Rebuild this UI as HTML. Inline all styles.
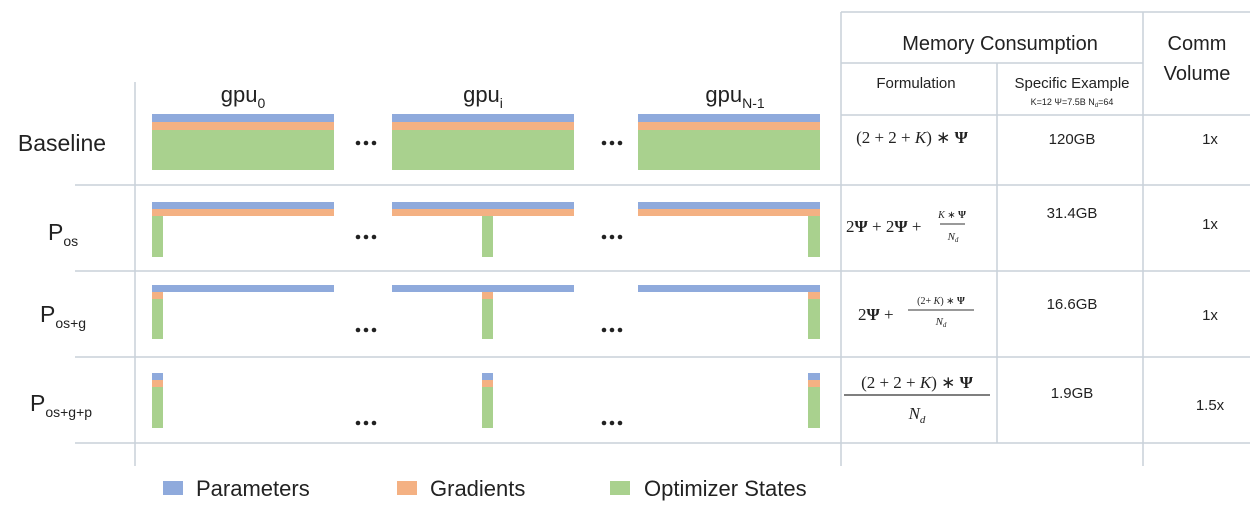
<!DOCTYPE html>
<html><head><meta charset="utf-8"><style>
html,body{margin:0;padding:0;background:#fff;width:1258px;height:513px;overflow:hidden}
svg{display:block}
text{font-family:"Liberation Sans","DejaVu Sans",sans-serif;fill:#222}
.m{font-family:"Liberation Serif",serif}
</style></head><body>
<svg width="1258" height="513" viewBox="0 0 1258 513" xmlns="http://www.w3.org/2000/svg">
<defs><g id="d"><circle cx="-8" cy="0" r="2.3" fill="#222"/><circle cx="0" cy="0" r="2.3" fill="#222"/><circle cx="8" cy="0" r="2.3" fill="#222"/></g></defs>
<g stroke="#c9d1d9" stroke-width="1.5" fill="none">
<line x1="135" y1="82" x2="135" y2="466"/>
<line x1="841" y1="12" x2="841" y2="466"/>
<line x1="1143" y1="12" x2="1143" y2="466"/>
<line x1="997" y1="63" x2="997" y2="443"/>
<line x1="841" y1="12" x2="1250" y2="12"/>
<line x1="841" y1="63" x2="1143" y2="63"/>
<line x1="841" y1="115" x2="1250" y2="115"/>
<line x1="75" y1="185" x2="1250" y2="185"/>
<line x1="75" y1="271" x2="1250" y2="271"/>
<line x1="75" y1="357" x2="1250" y2="357"/>
<line x1="75" y1="443" x2="1250" y2="443"/>
</g>
<text x="243" y="102" font-size="22" text-anchor="middle">gpu<tspan font-size="14" dy="6">0</tspan></text>
<text x="483" y="102" font-size="22" text-anchor="middle">gpu<tspan font-size="14" dy="6">i</tspan></text>
<text x="735" y="102" font-size="22" text-anchor="middle">gpu<tspan font-size="14" dy="6">N-1</tspan></text>
<text x="62" y="151" font-size="23" text-anchor="middle">Baseline</text>
<text x="48" y="240" font-size="23">P<tspan font-size="14" dy="6">os</tspan></text>
<text x="40" y="322" font-size="23">P<tspan font-size="14" dy="6">os+g</tspan></text>
<text x="30" y="411" font-size="23">P<tspan font-size="14" dy="6">os+g+p</tspan></text>
<g>
<rect x="152" y="114" width="182" height="8" fill="#8faadc"/><rect x="152" y="122" width="182" height="8" fill="#f4b183"/><rect x="152" y="130" width="182" height="40" fill="#a9d18e"/>
<rect x="392" y="114" width="182" height="8" fill="#8faadc"/><rect x="392" y="122" width="182" height="8" fill="#f4b183"/><rect x="392" y="130" width="182" height="40" fill="#a9d18e"/>
<rect x="638" y="114" width="182" height="8" fill="#8faadc"/><rect x="638" y="122" width="182" height="8" fill="#f4b183"/><rect x="638" y="130" width="182" height="40" fill="#a9d18e"/>
<rect x="152" y="202" width="182" height="7" fill="#8faadc"/><rect x="152" y="209" width="182" height="7" fill="#f4b183"/><rect x="152" y="216" width="11" height="41" fill="#a9d18e"/>
<rect x="392" y="202" width="182" height="7" fill="#8faadc"/><rect x="392" y="209" width="182" height="7" fill="#f4b183"/><rect x="482" y="216" width="11" height="41" fill="#a9d18e"/>
<rect x="638" y="202" width="182" height="7" fill="#8faadc"/><rect x="638" y="209" width="182" height="7" fill="#f4b183"/><rect x="808" y="216" width="12" height="41" fill="#a9d18e"/>
<rect x="152" y="285" width="182" height="7" fill="#8faadc"/><rect x="152" y="292" width="11" height="7" fill="#f4b183"/><rect x="152" y="299" width="11" height="40" fill="#a9d18e"/>
<rect x="392" y="285" width="182" height="7" fill="#8faadc"/><rect x="482" y="292" width="11" height="7" fill="#f4b183"/><rect x="482" y="299" width="11" height="40" fill="#a9d18e"/>
<rect x="638" y="285" width="182" height="7" fill="#8faadc"/><rect x="808" y="292" width="12" height="7" fill="#f4b183"/><rect x="808" y="299" width="12" height="40" fill="#a9d18e"/>
<rect x="152" y="373" width="11" height="7" fill="#8faadc"/><rect x="152" y="380" width="11" height="7" fill="#f4b183"/><rect x="152" y="387" width="11" height="41" fill="#a9d18e"/>
<rect x="482" y="373" width="11" height="7" fill="#8faadc"/><rect x="482" y="380" width="11" height="7" fill="#f4b183"/><rect x="482" y="387" width="11" height="41" fill="#a9d18e"/>
<rect x="808" y="373" width="12" height="7" fill="#8faadc"/><rect x="808" y="380" width="12" height="7" fill="#f4b183"/><rect x="808" y="387" width="12" height="41" fill="#a9d18e"/>
</g>
<use href="#d" x="366" y="143"/><use href="#d" x="612" y="143"/>
<use href="#d" x="366" y="237"/><use href="#d" x="612" y="237"/>
<use href="#d" x="366" y="330"/><use href="#d" x="612" y="330"/>
<use href="#d" x="366" y="423"/><use href="#d" x="612" y="423"/>
<text x="1000" y="50" font-size="20" text-anchor="middle">Memory Consumption</text>
<text x="1197" y="50" font-size="20" text-anchor="middle">Comm</text>
<text x="1197" y="80" font-size="20" text-anchor="middle">Volume</text>
<text x="916" y="88" font-size="15" text-anchor="middle" fill="#333">Formulation</text>
<text x="1072" y="88" font-size="15" text-anchor="middle" fill="#333">Specific Example</text>
<text x="1072" y="105" font-size="9" text-anchor="middle" fill="#333">K=12 Ψ=7.5B N<tspan font-size="6" dy="2">d</tspan><tspan dy="-2">=64</tspan></text>
<text class="m" x="912" y="143" font-size="17" text-anchor="middle">(2 + 2 + <tspan font-style="italic">K</tspan>) ∗ <tspan font-weight="bold">Ψ</tspan></text>
<text class="m" x="846" y="232" font-size="17">2<tspan font-weight="bold">Ψ</tspan> + 2<tspan font-weight="bold">Ψ</tspan> +</text>
<text class="m" x="952" y="218" font-size="10" text-anchor="middle"><tspan font-style="italic">K</tspan> ∗ <tspan font-weight="bold">Ψ</tspan></text>
<line x1="940" y1="224" x2="965" y2="224" stroke="#333" stroke-width="1"/>
<text class="m" x="953" y="240" font-size="11" text-anchor="middle" font-style="italic">N<tspan font-size="7" dy="2">d</tspan></text>
<text class="m" x="858" y="320" font-size="17">2<tspan font-weight="bold">Ψ</tspan> +</text>
<text class="m" x="941" y="304" font-size="10" text-anchor="middle">(2+ <tspan font-style="italic">K</tspan>) ∗ <tspan font-weight="bold">Ψ</tspan></text>
<line x1="908" y1="310" x2="974" y2="310" stroke="#333" stroke-width="1"/>
<text class="m" x="941" y="325" font-size="11" text-anchor="middle" font-style="italic">N<tspan font-size="7" dy="2">d</tspan></text>
<text class="m" x="917" y="388" font-size="17" text-anchor="middle">(2 +  2 +  <tspan font-style="italic">K</tspan>) ∗  <tspan font-weight="bold">Ψ</tspan></text>
<line x1="844" y1="395" x2="990" y2="395" stroke="#333" stroke-width="1.2"/>
<text class="m" x="917" y="419" font-size="17" text-anchor="middle" font-style="italic">N<tspan font-size="11" dy="4">d</tspan></text>
<g font-size="15" text-anchor="middle" fill="#333">
<text x="1072" y="144">120GB</text>
<text x="1072" y="218">31.4GB</text>
<text x="1072" y="309">16.6GB</text>
<text x="1072" y="398">1.9GB</text>
<text x="1210" y="144">1x</text>
<text x="1210" y="229">1x</text>
<text x="1210" y="320">1x</text>
<text x="1210" y="410">1.5x</text>
</g>
<rect x="163" y="481" width="20" height="14" fill="#8faadc"/>
<text x="196" y="496" font-size="22">Parameters</text>
<rect x="397" y="481" width="20" height="14" fill="#f4b183"/>
<text x="430" y="496" font-size="22">Gradients</text>
<rect x="610" y="481" width="20" height="14" fill="#a9d18e"/>
<text x="644" y="496" font-size="22">Optimizer States</text>
</svg>
</body></html>
